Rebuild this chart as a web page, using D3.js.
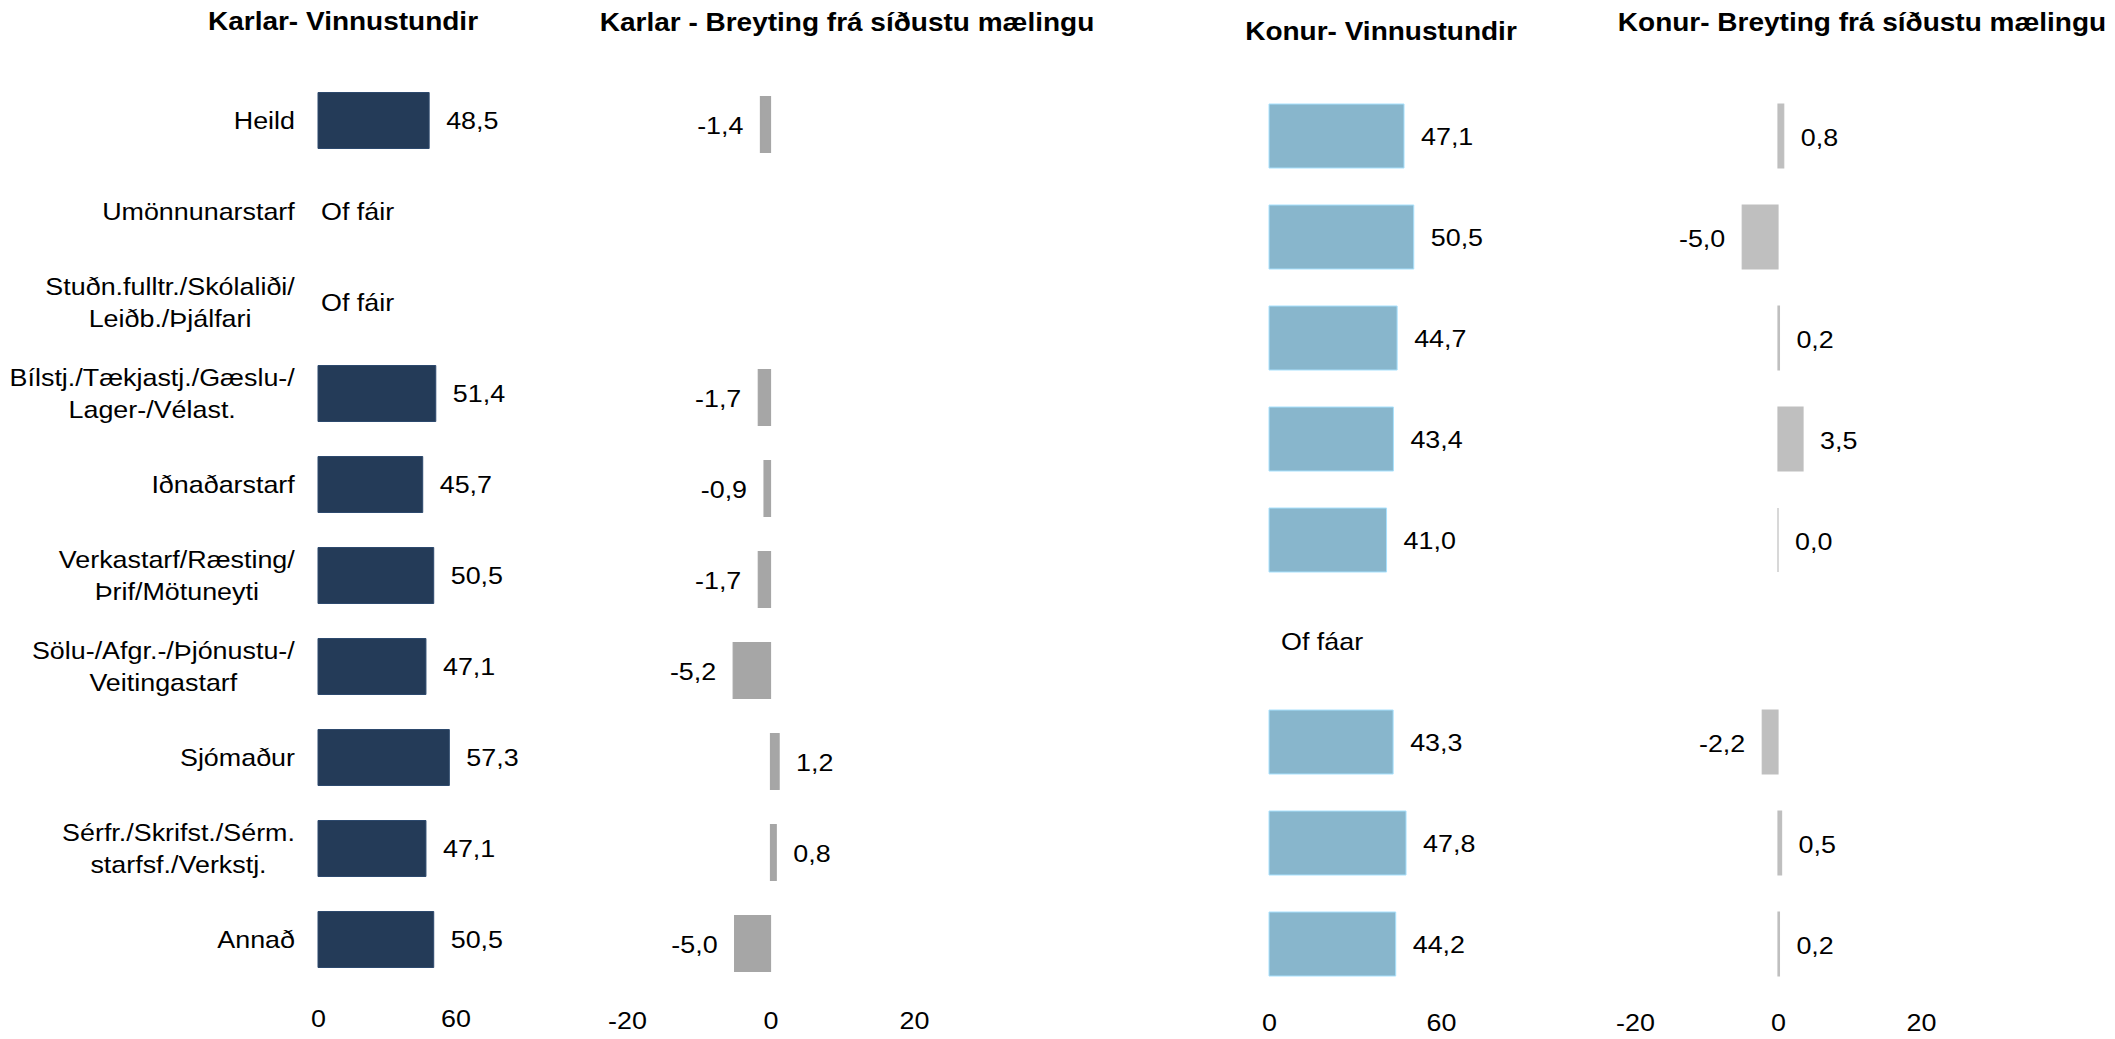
<!DOCTYPE html>
<html><head><meta charset="utf-8">
<script src="https://cdn.jsdelivr.net/npm/d3@7"></script>
<style>body{margin:0;background:#fff;overflow:hidden}text{font-family:"Liberation Sans",Arial,sans-serif;fill:#000}</style>
</head><body><svg id="c" width="2115" height="1039"></svg>
<script>
// ---------- data ----------
const karlarCategories = [
  "Heild",
  "Umönnunarstarf",
  "Stuðn.fulltr./Skólaliði/\nLeiðb./Þjálfari",
  "Bílstj./Tækjastj./Gæslu-/\nLager-/Vélast.",
  "Iðnaðarstarf",
  "Verkastarf/Ræsting/\nÞrif/Mötuneyti",
  "Sölu-/Afgr.-/Þjónustu-/\nVeitingastarf",
  "Sjómaður",
  "Sérfr./Skrifst./Sérm.\nstarfsf./Verkstj.",
  "Annað"
];
const karlarHours  = [48.5, null, null, 51.4, 45.7, 50.5, 47.1, 57.3, 47.1, 50.5];
const karlarChange = [-1.4, null, null, -1.7, -0.9, -1.7, -5.2, 1.2, 0.8, -5.0];

const konurCategories = ["Heild", "Umönnunarstarf", "Stuðn.fulltr.", "Verkastarf", "Sölu-/Afgr.", "Iðnaðarstarf", "Bílstj.", "Sérfr./Skrifst.", "Annað"];
const konurHours  = [47.1, 50.5, 44.7, 43.4, 41.0, null, 43.3, 47.8, 44.2];
const konurChange = [0.8, -5.0, 0.2, 3.5, 0.0, null, -2.2, 0.5, 0.2];

const hoursTicks  = [0, 60];
const changeTicks = [-20, 0, 20];
const titles = ["Karlar- Vinnustundir", "Karlar - Breyting frá síðustu mælingu", "Konur- Vinnustundir", "Konur- Breyting frá síðustu mælingu"];
const tooFewKarlar = "Of fáir";
const tooFewKonur  = "Of fáar";

// ---------- setup ----------
const SX = 1.12;           // horizontal stretch of the original text
const FS = 24;
const fmt = v => v.toFixed(1).replace(".", ",");
const svg = d3.select("#c");

function txt(g, x, y, s, anchor, opt = {}) {
  return g.append("text")
    .attr("transform", `translate(${x},${y}) scale(${SX},1)`)
    .attr("text-anchor", anchor)
    .attr("font-size", opt.size || FS)
    .attr("font-weight", opt.bold ? "bold" : null)
    .text(s);
}

function band(domain, r0, r1, bh) {
  const step = (r1 - r0) / domain.length;
  const p = 1 - bh / step;
  return d3.scaleBand().domain(domain).range([r0, r1]).paddingInner(p).paddingOuter(p / 2);
}

function barPath(x0, x1, y0, h) {
  const p = d3.path();
  p.moveTo(x0, y0); p.lineTo(x1, y0); p.lineTo(x1, y0 + h); p.lineTo(x0, y0 + h); p.closePath();
  return p.toString();
}

function xAxis(x, ticks, yBase) {
  const g = svg.append("g").attr("transform", `translate(0,${yBase})`)
    .call(d3.axisBottom(x).tickValues(ticks).tickSize(0).tickPadding(0).tickFormat(d => String(d)));
  g.select(".domain").remove();
  g.attr("font-family", null).attr("font-size", null);
  g.selectAll("text").attr("dy", 0).attr("y", 0).attr("font-size", FS).attr("fill", "#000")
    .attr("transform", `scale(${SX},1)`);
}

function hoursPanel(cats, vals, x, y, color, tooFew, tooFewDx) {
  const g = svg.append("g");
  cats.forEach((c, i) => {
    const v = vals[i];
    const yc = y(c) + y.bandwidth() / 2;
    if (v == null) {
      txt(g, x(0) + tooFewDx, yc + 8.6, tooFew, "start");
      return;
    }
    g.append("path").attr("d", barPath(x(0), x(v), y(c), y.bandwidth()))
      .attr("fill", color).attr("stroke", d3.color(color).brighter(0.6)).attr("stroke-width", 1);
    txt(g, x(v) + 17, yc + 8.6, fmt(v), "start");
  });
}

function changePanel(cats, vals, x, y, color) {
  const g = svg.append("g");
  cats.forEach((c, i) => {
    const v = vals[i];
    if (v == null) return;
    const yc = y(c) + y.bandwidth() / 2;
    g.append("path").attr("d", barPath(x(0), x(v), y(c), y.bandwidth()))
      .attr("fill", color).attr("stroke", color).attr("stroke-width", 1.2);
    if (v < 0) txt(g, x(v) - 17, yc + 9.5, fmt(v), "end");
    else txt(g, x(v) + 17, yc + 9.5, fmt(v), "start");
  });
}

// ---------- Karlar ----------
const xKH = d3.scaleLinear().domain([0, 60]).range([318, 455.5]);
const yKH = band(karlarCategories, 75, 985, 56);
const xKC = d3.scaleLinear().domain([-20, 20]).range([627, 914]);
const yKC = band(karlarCategories, 79, 989, 56);

// category labels
const labG = svg.append("g");
karlarCategories.forEach(c => {
  const lines = c.split("\n");
  const yc = yKH(c) + yKH.bandwidth() / 2;
  const t = labG.append("text").attr("text-anchor", "middle").attr("font-size", FS);
  lines.forEach((l, i) => {
    t.append("tspan").attr("x", 0).attr("y", (i - (lines.length - 1) / 2) * 32 + 8.6).text(l);
  });
  const w = t.node().getBBox().width * SX;
  t.attr("transform", `translate(${295 - w / 2},${yc}) scale(${SX},1)`);
});

hoursPanel(karlarCategories, karlarHours, xKH, yKH, "#243B58", tooFewKarlar, 3);
changePanel(karlarCategories, karlarChange, xKC, yKC, "#A6A6A6");
xAxis(xKH, hoursTicks, 1027);
xAxis(xKC, changeTicks, 1029);

// ---------- Konur ----------
const xFH = d3.scaleLinear().domain([0, 60]).range([1269, 1441]);
const yF = band(konurCategories, 85.5, 994.5, 64);
const xFC = d3.scaleLinear().domain([-20, 20]).range([1635, 1921]);

hoursPanel(konurCategories, konurHours, xFH, yF, "#88B6CC", tooFewKonur, 12);
changePanel(konurCategories, konurChange, xFC, yF, "#BFBFBF");
xAxis(xFH, hoursTicks, 1031);
xAxis(xFC, changeTicks, 1031);

// ---------- titles ----------
const tG = svg.append("g");
txt(tG, 343, 30, titles[0], "middle", {bold: true, size: 25});
txt(tG, 847, 31, titles[1], "middle", {bold: true, size: 25});
txt(tG, 1381, 40, titles[2], "middle", {bold: true, size: 25});
txt(tG, 1862, 31, titles[3], "middle", {bold: true, size: 25});
</script>
</body></html>
